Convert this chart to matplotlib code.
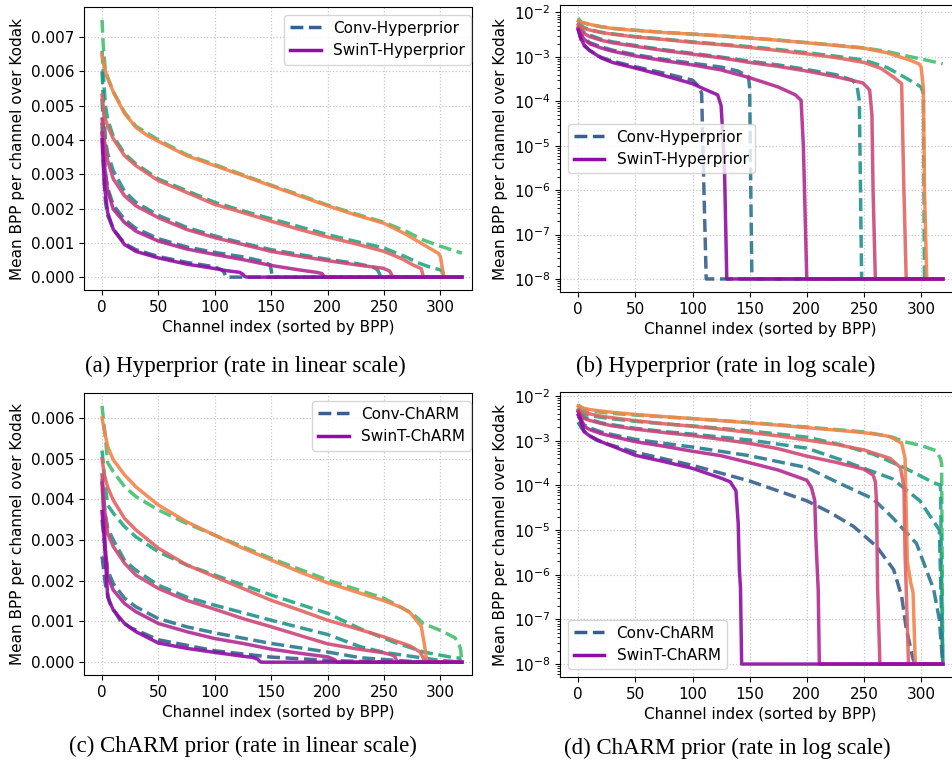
import matplotlib
matplotlib.use("Agg")
import matplotlib.pyplot as plt
from matplotlib.lines import Line2D

# ---- data: knots (channel index, mean BPP); 1e-8 = floor ----
# Hyperprior, Conv (dashed)
hp_c1_x = [0, 1, 3, 5, 10, 20, 30, 50, 75, 100, 106, 108, 110, 112, 319]
hp_c1_y = [0.0045, 0.0035, 0.0022, 0.0018, 0.0014, 0.00098, 0.0008, 0.0006, 0.00043, 0.0003,
           0.00021, 0.00015, 1e-6, 1e-8, 1e-8]
hp_c2_x = [0, 1, 3, 5, 10, 20, 30, 50, 75, 100, 125, 140, 149, 150, 151, 152, 319]
hp_c2_y = [0.0052, 0.0045, 0.0030, 0.0026, 0.0021, 0.00168, 0.00142, 0.00112, 0.00088, 0.00072,
           0.00059, 0.00048, 0.00036, 0.0002, 1e-6, 1e-8, 1e-8]
hp_c3_x = [0, 1, 3, 5, 10, 20, 30, 50, 75, 100, 125, 150, 175, 200, 225, 240, 244, 246, 247, 248, 319]
hp_c3_y = [0.0060, 0.0053, 0.0040, 0.0036, 0.0031, 0.0025, 0.00218, 0.0018, 0.00145, 0.0012,
           0.00099, 0.0008, 0.00066, 0.00052, 0.0004, 0.0003, 0.00022, 0.0001, 1e-6, 1e-8, 1e-8]
hp_c4_x = [0, 1, 3, 5, 10, 20, 30, 50, 75, 100, 125, 150, 175, 200, 225, 250, 270, 280, 290, 300,
           302, 303, 319]
hp_c4_y = [0.0066, 0.0060, 0.0050, 0.0046, 0.0041, 0.0036, 0.0033, 0.00286, 0.00252, 0.00218,
           0.00193, 0.0017, 0.00147, 0.00124, 0.00104, 0.00085, 0.00058, 0.00042, 0.0003, 0.00021,
           0.00015, 1e-8, 1e-8]
hp_c5_x = [0, 1, 3, 10, 20, 30, 50, 75, 100, 125, 150, 175, 200, 225, 250, 270, 285, 300, 319]
hp_c5_y = [0.0075, 0.0068, 0.0060, 0.0054, 0.0048, 0.0044, 0.0040, 0.00357, 0.00328, 0.00298,
           0.00268, 0.0024, 0.0021, 0.00184, 0.0016, 0.00133, 0.00108, 0.0009, 0.0007]

# Hyperprior, SwinT (solid)
hp_s1_x = [0, 2, 5, 10, 20, 30, 50, 75, 100, 110, 122, 125, 126, 128, 130, 319]
hp_s1_y = [0.0040, 0.0027, 0.00188, 0.00139, 0.00095, 0.00075, 0.00056, 0.00038, 0.00025, 0.00019,
           0.00014, 8e-5, 3e-5, 3e-6, 1e-8, 1e-8]
hp_s2_x = [0, 2, 5, 10, 20, 30, 50, 75, 100, 125, 150, 175, 190, 195, 197, 199, 200, 319]
hp_s2_y = [0.0042, 0.0033, 0.0025, 0.00198, 0.00159, 0.00134, 0.00105, 0.00082, 0.00066, 0.00051,
           0.00034, 0.00021, 0.00014, 0.000105, 1e-5, 1e-7, 1e-8, 1e-8]
hp_s3_x = [0, 2, 5, 10, 20, 30, 50, 75, 100, 125, 150, 175, 200, 225, 249, 255, 257, 258, 260, 319]
hp_s3_y = [0.0046, 0.0040, 0.0034, 0.00286, 0.00237, 0.00208, 0.00173, 0.00139, 0.00115, 0.00095,
           0.00075, 0.00061, 0.00048, 0.00036, 0.00026, 0.00018, 5e-5, 1e-6, 1e-8, 1e-8]
hp_s4_x = [0, 2, 5, 10, 20, 30, 50, 75, 100, 125, 150, 175, 200, 225, 250, 265, 276, 283, 285, 287, 319]
hp_s4_y = [0.0053, 0.0047, 0.0044, 0.00403, 0.00354, 0.00325, 0.00281, 0.00247, 0.00212, 0.00188,
           0.00163, 0.00139, 0.00117, 0.00097, 0.00075, 0.00055, 0.00035, 0.00025, 1e-6, 1e-8, 1e-8]
hp_s5_x = [0, 2, 5, 10, 20, 30, 40, 50, 75, 100, 125, 150, 175, 200, 225, 250, 270, 290, 298, 300,
           302, 303, 305, 319]
hp_s5_y = [0.0065, 0.0061, 0.0058, 0.0054, 0.00477, 0.00437, 0.00413, 0.00396, 0.00354, 0.00325,
           0.00296, 0.00266, 0.00237, 0.00208, 0.00181, 0.00157, 0.00124, 0.00085, 0.0007, 0.0006,
           0.0002, 1e-6, 1e-8, 1e-8]

# ChARM, Conv (dashed)
ch_c1_x = [0, 3, 7, 16, 25, 50, 100, 150, 200, 220, 241, 261, 276, 283, 287, 293, 295, 319]
ch_c1_y = [0.0026, 0.0019, 0.00144, 0.00103, 0.00085, 0.00055, 0.00028, 0.000125, 4.5e-5, 2.5e-5,
           1.2e-5, 4.3e-6, 1.3e-6, 3.3e-7, 6.3e-8, 1.3e-8, 1e-8, 1e-8]
ch_c2_x = [0, 3, 5, 10, 20, 30, 50, 75, 100, 150, 200, 229, 258, 275, 296, 311, 316, 319]
ch_c2_y = [0.0035, 0.0027, 0.00226, 0.00193, 0.00157, 0.00136, 0.00107, 0.00087, 0.00072, 0.00046,
           0.00025, 0.00011, 5e-5, 1.9e-5, 5e-6, 4.7e-7, 1e-7, 1e-8]
ch_c3_x = [0, 3, 5, 10, 20, 30, 50, 75, 100, 150, 200, 229, 250, 275, 299, 314, 316, 318, 319]
ch_c3_y = [0.0045, 0.0036, 0.0033, 0.0030, 0.0025, 0.00226, 0.00189, 0.0016, 0.0014, 0.00103,
           0.00068, 0.00038, 0.00024, 0.00014, 4.5e-5, 1.2e-5, 1e-5, 1e-7, 1e-8]
ch_c4_x = [0, 3, 5, 10, 20, 30, 50, 75, 100, 150, 200, 229, 258, 285, 311, 317, 318, 319]
ch_c4_y = [0.0052, 0.0043, 0.00386, 0.00366, 0.00333, 0.00308, 0.00271, 0.00239, 0.00214, 0.00165,
           0.0012, 0.00082, 0.0005, 0.00025, 0.000115, 0.0001, 1e-6, 1e-8]
ch_c5_x = [0, 3, 5, 10, 20, 30, 50, 75, 100, 150, 200, 250, 275, 285, 300, 313, 317, 318, 319]
ch_c5_y = [0.0063, 0.0055, 0.0049, 0.00468, 0.00431, 0.00407, 0.00374, 0.00341, 0.00312, 0.00255,
           0.00202, 0.00157, 0.0012, 0.00095, 0.00078, 0.0006, 0.0004, 0.0003, 1e-8]

# ChARM, SwinT (solid)
ch_s1_x = [0, 2, 5, 10, 20, 30, 50, 75, 100, 125, 133, 138, 140, 141, 142, 143, 319]
ch_s1_y = [0.0037, 0.0030, 0.0016, 0.00128, 0.00095, 0.00075, 0.00047, 0.00034, 0.00024, 0.000145,
           0.00012, 7.6e-5, 1.4e-5, 1.3e-6, 5e-7, 1e-8, 1e-8]
ch_s2_x = [0, 3, 5, 10, 20, 30, 50, 75, 100, 125, 150, 175, 200, 204, 207, 208, 210, 211, 319]
ch_s2_y = [0.0044, 0.0028, 0.0021, 0.00177, 0.00144, 0.00124, 0.00095, 0.00075, 0.00058, 0.00046,
           0.00032, 0.00022, 0.00013, 9e-5, 4.6e-5, 6e-6, 4.6e-7, 1e-8, 1e-8]
ch_s3_x = [0, 2, 5, 10, 20, 30, 50, 75, 100, 125, 150, 175, 200, 225, 250, 258, 260, 261, 262, 264, 319]
ch_s3_y = [0.0046, 0.0038, 0.00316, 0.00284, 0.00243, 0.00214, 0.00181, 0.00152, 0.0013, 0.00107,
           0.00087, 0.00066, 0.00045, 0.00033, 0.00023, 0.00017, 0.00012, 4.5e-5, 4.6e-7, 1e-8, 1e-8]
ch_s4_x = [0, 2, 5, 10, 20, 30, 50, 75, 100, 125, 150, 175, 200, 225, 250, 273, 282, 285, 286, 287,
           289, 319]
ch_s4_y = [0.0050, 0.0046, 0.0043, 0.00398, 0.00353, 0.00325, 0.0028, 0.00239, 0.0021, 0.00181,
           0.00152, 0.00128, 0.00103, 0.00083, 0.00062, 0.0004, 0.00025, 9e-5, 3e-6, 5e-7, 1e-8, 1e-8]
ch_s5_x = [0, 2, 5, 10, 20, 30, 50, 75, 100, 125, 150, 175, 200, 225, 250, 265, 273, 283, 286, 288,
           291, 293, 295, 319]
ch_s5_y = [0.0060, 0.0057, 0.0053, 0.00497, 0.0046, 0.00431, 0.00386, 0.00345, 0.00312, 0.0028,
           0.00251, 0.00222, 0.00195, 0.00173, 0.00151, 0.00135, 0.00122, 0.00088, 0.0004, 2e-6,
           6.5e-7, 4e-7, 1e-8, 1e-8]

hp_conv = [(hp_c1_x, hp_c1_y), (hp_c2_x, hp_c2_y), (hp_c3_x, hp_c3_y), (hp_c4_x, hp_c4_y), (hp_c5_x, hp_c5_y)]
hp_swin = [(hp_s1_x, hp_s1_y), (hp_s2_x, hp_s2_y), (hp_s3_x, hp_s3_y), (hp_s4_x, hp_s4_y), (hp_s5_x, hp_s5_y)]
ch_conv = [(ch_c1_x, ch_c1_y), (ch_c2_x, ch_c2_y), (ch_c3_x, ch_c3_y), (ch_c4_x, ch_c4_y), (ch_c5_x, ch_c5_y)]
ch_swin = [(ch_s1_x, ch_s1_y), (ch_s2_x, ch_s2_y), (ch_s3_x, ch_s3_y), (ch_s4_x, ch_s4_y), (ch_s5_x, ch_s5_y)]

captions = ["(a) Hyperprior (rate in linear scale)", "(b) Hyperprior (rate in log scale)",
            "(c) ChARM prior (rate in linear scale)", "(d) ChARM prior (rate in log scale)"]

# colours: viridis for Conv, plasma for SwinT, from low to high rate
levels = [0.3, 0.4, 0.5, 0.6, 0.7]
conv_cols = [plt.cm.viridis(v) for v in levels]
swin_cols = [plt.cm.plasma(v) for v in levels]

W, H = 952, 767
fig = plt.figure(figsize=(W / 100, H / 100), dpi=100)


def box(l, t, r, b):
    return [l / W, 1 - b / H, (r - l) / W, (b - t) / H]


def panel(rect, conv, swin, log, names, legend_loc, anchor=None):
    ax = fig.add_axes(rect)
    for i in reversed(range(5)):
        x, y = conv[i]
        ax.plot(x, y, "--", color=conv_cols[i], lw=2.5, alpha=0.9)
    for i in reversed(range(5)):
        x, y = swin[i]
        ax.plot(x, y, "-", color=swin_cols[i], lw=2.5, alpha=0.9)
    if log:
        ax.set_yscale("log")
    else:
        ax.set_xlim(-16, 328)
    ax.grid(True, linestyle=":", color="#c8c8c8", linewidth=0.9)
    ax.set_xticks([0, 50, 100, 150, 200, 250, 300])
    ax.tick_params(labelsize=11)
    ax.set_xlabel("Channel index (sorted by BPP)", fontsize=11)
    ax.set_ylabel("Mean BPP per channel over Kodak", fontsize=11)
    handles = [Line2D([], [], ls="--", color=conv_cols[0], lw=2.5),
               Line2D([], [], ls="-", color=swin_cols[0], lw=2.5)]
    kw = {}
    if anchor is not None:
        kw["bbox_to_anchor"] = anchor
    ax.legend(handles, names, loc=legend_loc, fontsize=11, **kw)
    return ax


panel(box(84, 7, 472, 290), hp_conv, hp_swin, False, ["Conv-Hyperprior", "SwinT-Hyperprior"],
      "upper right", (1.017, 1.0))
panel(box(560, 5, 961, 292), hp_conv, hp_swin, True, ["Conv-Hyperprior", "SwinT-Hyperprior"],
      "center left")
panel(box(84, 393, 472, 675), ch_conv, ch_swin, False, ["Conv-ChARM", "SwinT-ChARM"],
      "upper right", (1.017, 1.0))
panel(box(560, 392, 961, 677), ch_conv, ch_swin, True, ["Conv-ChARM", "SwinT-ChARM"],
      "lower left")

cap_pos = [(245, 366), (726, 366), (243, 746), (727, 748)]
for (cx, cy), txt in zip(cap_pos, captions):
    fig.text(cx / W, 1 - cy / H, txt, ha="center", va="center",
             fontfamily="Liberation Serif", fontsize=16.5)

fig.savefig("out.png", dpi=100)
